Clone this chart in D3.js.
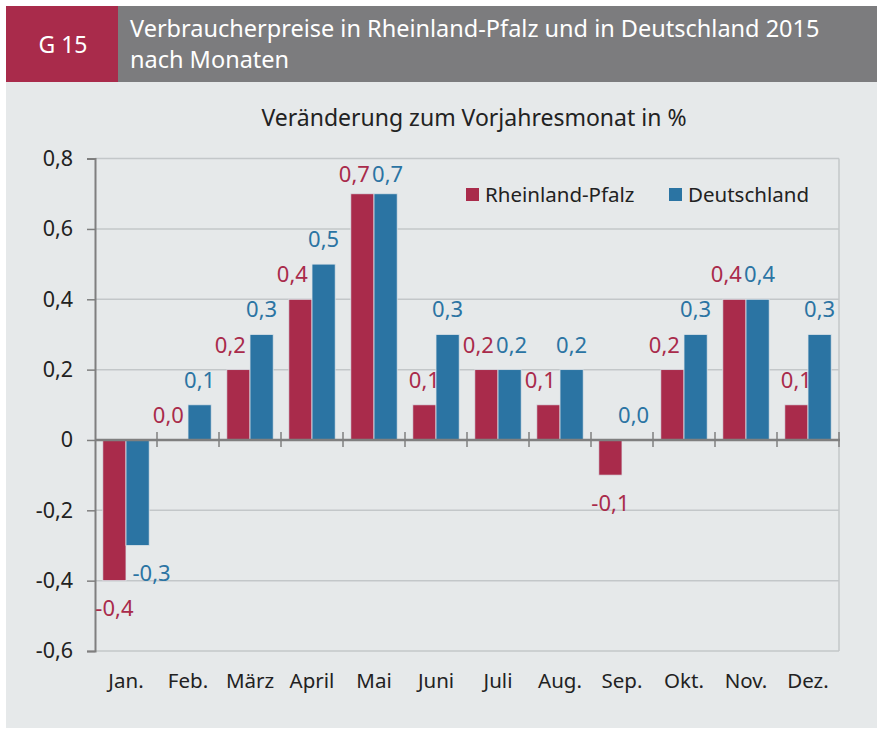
<!DOCTYPE html>
<html><head><meta charset="utf-8">
<script src="https://cdn.jsdelivr.net/npm/d3@7"></script>
<style>body{margin:0;background:#fff}svg{display:block}text{font-family:"Noto Sans",sans-serif}</style>
</head><body>
<svg id="c" width="877" height="731"></svg>
<script>
const months = ["Jan.","Feb.","März","April","Mai","Juni","Juli","Aug.","Sep.","Okt.","Nov.","Dez."];
const seriesNames = ["Rheinland-Pfalz","Deutschland"];
const rlp = [-0.4,0.0,0.2,0.4,0.7,0.1,0.2,0.1,-0.1,0.2,0.4,0.1];
const de  = [-0.3,0.1,0.3,0.5,0.7,0.3,0.2,0.2,0.0,0.3,0.4,0.3];
const yTicks = [-0.6,-0.4,-0.2,0,0.2,0.4,0.6,0.8];
const colors = ["#a92b4b","#2b74a3"];
const headerCode = "G 15";
const headerTitle = ["Verbraucherpreise in Rheinland-Pfalz und in Deutschland 2015","nach Monaten"];
const subTitle = "Veränderung zum Vorjahresmonat in %";

const svg = d3.select("#c");
const fmt = v => { const s = d3.format(".1f")(Math.abs(v)).replace(".",","); return v < 0 ? "-"+s : s; };
const fmtTick = v => v === 0 ? "0" : (v<0?"-":"") + d3.format(".1f")(Math.abs(v)).replace(".",",");

// panels
svg.append("rect").attr("x",6).attr("y",82).attr("width",871).attr("height",646).attr("fill","#e6e9ea");
svg.append("rect").attr("x",6).attr("y",6).attr("width",112).attr("height",76).attr("fill","#a92b4b");
svg.append("rect").attr("x",118).attr("y",6).attr("width",759).attr("height",76).attr("fill","#7c7c7e");
svg.append("text").attr("x",63).attr("y",53).attr("text-anchor","middle").attr("fill","#fff")
  .style("font-size","23px").text(headerCode);
headerTitle.forEach((t,i)=>{
  svg.append("text").attr("x",130).attr("y",37+i*31).attr("fill","#fff").style("font-size","23.5px").text(t);
});
svg.append("text").attr("x",474).attr("y",126).attr("text-anchor","middle").attr("fill","#222")
  .style("font-size","23px").text(subTitle);

const L=95, R=839;
const y = d3.scaleLinear().domain([-0.6,0.8]).range([651,158.6]);
const x0 = d3.scaleBand().domain(months).range([L,R]).paddingInner(0).paddingOuter(0);
const x1 = d3.scaleBand().domain(seriesNames).range([7.8, x0.bandwidth()-7.8]).padding(0);

const g = svg.append("g");
// grid
g.selectAll("line.grid").data(yTicks.filter(v=>v!==0)).join("line")
  .attr("x1",L).attr("x2",R).attr("y1",d=>y(d)).attr("y2",d=>y(d))
  .attr("stroke","#c3c7c9").attr("stroke-width",1.5);
// right frame
g.append("line").attr("x1",R).attr("x2",R).attr("y1",y(0.8)).attr("y2",y(-0.6)).attr("stroke","#c3c7c9").attr("stroke-width",1.5);

// bars
const data = months.map((m,i)=>({m, vals:[rlp[i],de[i]]}));
const grp = g.selectAll("g.m").data(data).join("g").attr("transform",d=>`translate(${x0(d.m)},0)`);
grp.selectAll("rect").data(d=>d.vals.map((v,k)=>({v,k}))).join("rect")
  .attr("x",d=>x1(seriesNames[d.k])).attr("width",x1.bandwidth())
  .attr("y",d=>y(Math.max(0,d.v))).attr("height",d=>Math.abs(y(d.v)-y(0)))
  .attr("fill",d=>colors[d.k]).attr("stroke","#dce3e8").attr("stroke-width",0.8);

// axes
const yAxis = d3.axisLeft(y).tickValues(yTicks).tickFormat(fmtTick).tickSize(8).tickPadding(14);
const ya = svg.append("g").attr("transform",`translate(${L},0)`).call(yAxis);
ya.select(".domain").attr("stroke","#7f7f7f").attr("stroke-width",2);
ya.selectAll(".tick line").attr("stroke","#7f7f7f").attr("stroke-width",1.5);
ya.selectAll(".tick text").attr("fill","#222").style("font-size","21.5px").style("font-family","Noto Sans");

// zero line
svg.append("line").attr("x1",L).attr("x2",R+1).attr("y1",y(0)).attr("y2",y(0)).attr("stroke","#7f7f7f").attr("stroke-width",2.5);
// category ticks
const bounds = months.map(m=>x0(m)+x0.bandwidth());
svg.selectAll("line.ct").data(bounds).join("line").attr("x1",d=>d).attr("x2",d=>d)
  .attr("y1",y(0)-8).attr("y2",y(0)+7).attr("stroke","#7f7f7f").attr("stroke-width",1.5);
// month labels
svg.selectAll("text.mon").data(months).join("text")
  .attr("x",d=>x0(d)+x0.bandwidth()/2).attr("y",688).attr("text-anchor","middle")
  .attr("fill","#222").style("font-size","20.5px").text(d=>d);

// value labels
const labels = [];
data.forEach((d,i)=>{
  const [r,b] = d.vals;
  d.vals.forEach((v,k)=>{
    let cx = x0(d.m)+x1(seriesNames[k])+x1.bandwidth()/2;
    let yy = v>=0 ? Math.max(y(v)-17, y(0.8)+23) : y(v)+35.5;
    if (v>=0 && r>=0) {
      if (k===0 && b>=r && b-r<=0.15) cx -= 8;
      if (k===1 && b===r) cx += 2;
    }
    if (v<0 && k===1 && r<0) cx += 14;
    labels.push({cx,yy,k,v});
  });
});
svg.selectAll("text.val").data(labels).join("text")
  .attr("x",d=>d.cx).attr("y",d=>d.yy).attr("text-anchor","middle")
  .attr("fill",d=>colors[d.k]).style("font-size","22px").text(d=>fmt(d.v));

// legend
const lg = svg.append("g");
const lx = [466, 669];
seriesNames.forEach((n,k)=>{
  lg.append("rect").attr("x",lx[k]).attr("y",188).attr("width",13).attr("height",13).attr("fill",colors[k]);
  lg.append("text").attr("x",lx[k]+19).attr("y",201.5).attr("fill","#222").style("font-size","20.5px").text(n);
});
</script>
</body></html>
